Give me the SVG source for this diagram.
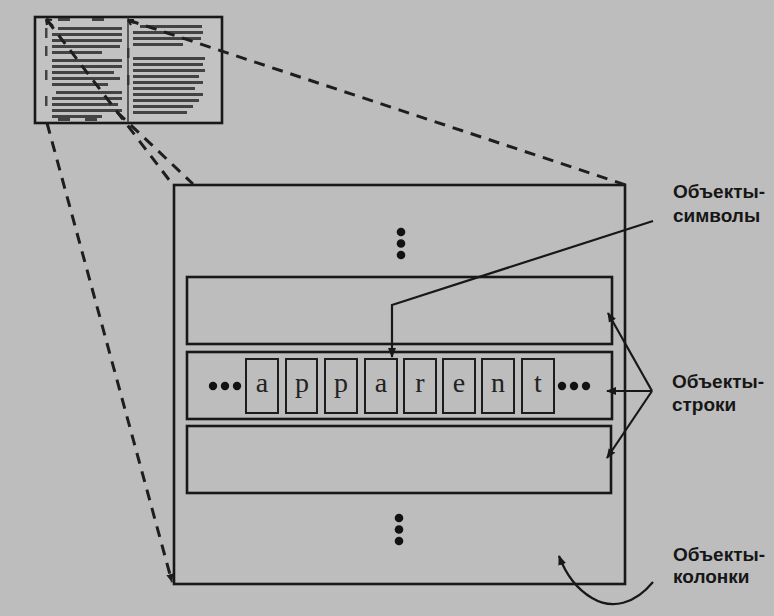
<svg xmlns="http://www.w3.org/2000/svg" width="774" height="616" viewBox="0 0 774 616">
<style>
.ln{fill:none;stroke:#181818;stroke-width:2.6}
.bx{fill:none;stroke:#1c1c1c;stroke-width:2}
.dash{fill:none;stroke:#1e1e1e;stroke-width:3;stroke-dasharray:11 8}
.arr{fill:none;stroke:#181818;stroke-width:2.2}
.lbl{font-family:"Liberation Sans",Arial,sans-serif;font-weight:bold;font-size:19px;fill:#161616}
.ch{font-family:"Liberation Serif","Times New Roman",serif;font-size:28px;fill:#222;text-anchor:middle}
.tl{fill:#2e2e2e;opacity:0.85}
.dot{fill:#121212}
</style>
<defs>
<marker id="ah" viewBox="0 0 10 10" refX="9" refY="5" markerWidth="10" markerHeight="10" markerUnits="userSpaceOnUse" orient="auto">
<path d="M0,1 L10,5 L0,9 Z" fill="#181818"/>
</marker>
<marker id="ahs" viewBox="0 0 10 10" refX="9" refY="5" markerWidth="9" markerHeight="9" markerUnits="userSpaceOnUse" orient="auto">
<path d="M0,1 L10,5 L0,9 Z" fill="#1e1e1e"/>
</marker>
</defs>
<rect x="0" y="0" width="774" height="616" fill="#bdbdbd"/>

<g id="thumbnail">
<rect x="35" y="17" width="187" height="106" fill="#c2c2c2" stroke="#181818" stroke-width="2.6"/>
<line x1="128" y1="17" x2="128" y2="123" stroke="#333" stroke-width="1.5"/>
<g class="tl">
<rect x="58" y="27" width="64" height="3"/><rect x="52" y="33" width="70" height="3"/><rect x="52" y="39" width="70" height="3"/><rect x="52" y="45" width="68" height="3"/><rect x="52" y="51" width="50" height="3"/>
<rect x="52" y="59" width="70" height="3"/><rect x="52" y="65" width="70" height="3"/><rect x="52" y="71" width="62" height="3"/><rect x="52" y="77" width="68" height="3"/><rect x="52" y="83" width="56" height="3"/>
<rect x="56" y="91" width="66" height="3"/><rect x="52" y="97" width="70" height="3"/><rect x="52" y="103" width="66" height="3"/><rect x="52" y="109" width="70" height="3"/><rect x="52" y="115" width="50" height="3"/>
<rect x="140" y="25" width="62" height="3"/><rect x="133" y="31" width="70" height="3"/><rect x="133" y="37" width="68" height="3"/><rect x="133" y="43" width="50" height="3"/>
<rect x="133" y="57" width="72" height="3"/><rect x="133" y="63" width="70" height="3"/><rect x="133" y="69" width="72" height="3"/><rect x="133" y="75" width="66" height="3"/><rect x="133" y="81" width="70" height="3"/><rect x="133" y="87" width="62" height="3"/><rect x="133" y="93" width="70" height="3"/><rect x="133" y="99" width="66" height="3"/><rect x="133" y="105" width="60" height="3"/><rect x="133" y="111" width="54" height="3"/>
<rect x="45" y="28" width="2.5" height="10"/><rect x="45" y="46" width="2.5" height="10"/><rect x="45" y="70" width="2.5" height="10"/><rect x="45" y="96" width="2.5" height="10"/>
<rect x="127" y="48" width="2.5" height="10"/><rect x="127" y="75" width="2.5" height="10"/>
<rect x="58" y="18" width="12" height="3"/><rect x="92" y="18" width="12" height="3"/><rect x="58" y="118" width="12" height="3"/><rect x="85" y="118" width="12" height="3"/>
</g>
</g>

<g id="page">
<rect x="174" y="185" width="451" height="399" class="ln"/>
</g>

<g id="row1"><rect x="187" y="277" width="425" height="67" class="ln"/></g>
<g id="row2"><rect x="187" y="352" width="425" height="67" class="ln"/></g>
<g id="row3"><rect x="187" y="426" width="424" height="67" class="ln"/></g>

<g id="dots">
<circle cx="401" cy="232" r="4.3" class="dot"/><circle cx="401" cy="243.5" r="4.3" class="dot"/><circle cx="401" cy="255" r="4.3" class="dot"/>
<circle cx="399" cy="518" r="4.3" class="dot"/><circle cx="399" cy="529.5" r="4.3" class="dot"/><circle cx="399" cy="541" r="4.3" class="dot"/>
<circle cx="213" cy="386" r="4.2" class="dot"/><circle cx="225" cy="386" r="4.2" class="dot"/><circle cx="237" cy="386" r="4.2" class="dot"/>
<circle cx="562" cy="386" r="4.2" class="dot"/><circle cx="574" cy="386" r="4.2" class="dot"/><circle cx="586" cy="386" r="4.2" class="dot"/>
</g>

<g id="char-a1"><rect x="246" y="359" width="32" height="54" class="bx"/><text x="262" y="392" class="ch">a</text></g>
<g id="char-p1"><rect x="286" y="359" width="31" height="54" class="bx"/><text x="302" y="392" class="ch">p</text></g>
<g id="char-p2"><rect x="325" y="359" width="32" height="54" class="bx"/><text x="341" y="392" class="ch">p</text></g>
<g id="char-a2"><rect x="365" y="359" width="32" height="54" class="bx"/><text x="381" y="392" class="ch">a</text></g>
<g id="char-r"><rect x="404" y="359" width="32" height="54" class="bx"/><text x="420" y="392" class="ch">r</text></g>
<g id="char-e"><rect x="443" y="359" width="32" height="54" class="bx"/><text x="459" y="392" class="ch">e</text></g>
<g id="char-n"><rect x="482" y="359" width="32" height="54" class="bx"/><text x="498" y="392" class="ch">n</text></g>
<g id="char-t"><rect x="522" y="359" width="32" height="54" class="bx"/><text x="538" y="392" class="ch">t</text></g>

<g id="label-symbols"><text x="673" y="198" class="lbl">Объекты-</text><text x="673" y="222" class="lbl">символы</text></g>
<g id="label-rows"><text x="672" y="388" class="lbl">Объекты-</text><text x="672" y="411" class="lbl">строки</text></g>
<g id="label-columns"><text x="673" y="561" class="lbl">Объекты-</text><text x="673" y="583" class="lbl">колонки</text></g>

<g id="connectors">
<line x1="47" y1="20" x2="173" y2="185" class="dash"/>
<line x1="128" y1="20" x2="626" y2="185" class="dash"/>
<line x1="117" y1="112" x2="193" y2="184" class="dash"/>
<line x1="47" y1="123" x2="172" y2="582" class="dash" marker-end="url(#ahs)"/>
<path d="M53,26 L46,19 M46,19 L47,25 M46,19 L52,20" stroke="#1e1e1e" stroke-width="2.2" fill="none"/>
<path d="M134,23 L128,20 M128,20 L131,25 M128,20 L134,20" stroke="#1e1e1e" stroke-width="2.2" fill="none"/>
<polyline points="653,221 392,305 392,357" class="arr" marker-end="url(#ah)"/>
<line x1="652" y1="391" x2="608" y2="313" class="arr" marker-end="url(#ah)"/>
<line x1="652" y1="391" x2="607" y2="391" class="arr" marker-end="url(#ah)"/>
<line x1="652" y1="391" x2="607" y2="458" class="arr" marker-end="url(#ah)"/>
<path d="M653,582 C635,604 612,610 592,598 C575,588 565,572 559,556" class="arr" marker-end="url(#ah)"/>
</g>
</svg>
